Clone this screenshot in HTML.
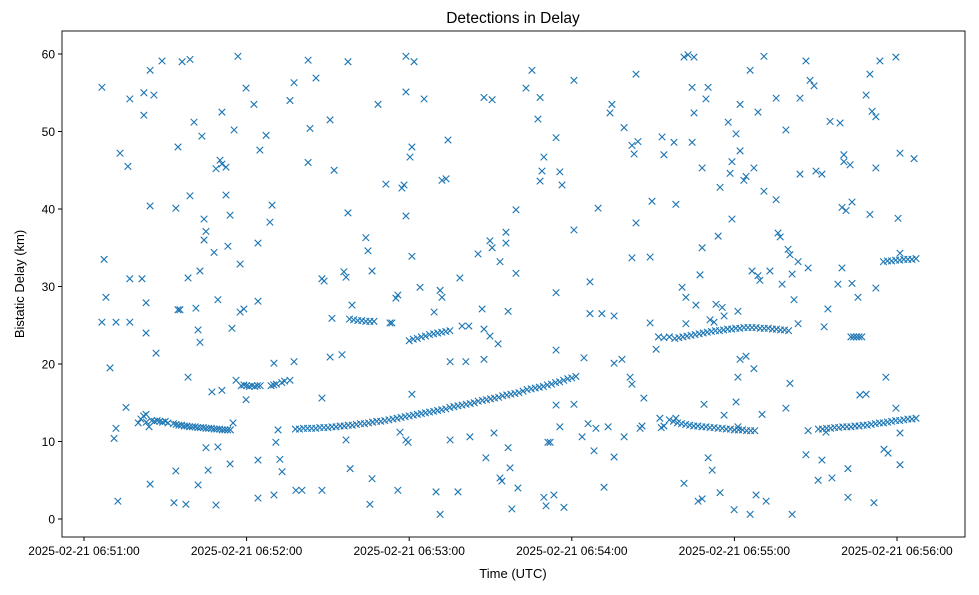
<!DOCTYPE html>
<html><head><meta charset="utf-8">
<style>
html,body{margin:0;padding:0;background:#fff;}
svg text{font-family:"Liberation Sans","DejaVu Sans",sans-serif;fill:#000;}
</style></head>
<body>
<svg id="chart" width="979" height="590" xmlns="http://www.w3.org/2000/svg">
<rect width="979" height="590" fill="#fff"/>
<text x="513" y="23" text-anchor="middle" font-size="15.5">Detections in Delay</text>
<text x="513" y="578" text-anchor="middle" font-size="13">Time (UTC)</text>
<text transform="translate(24,284) rotate(-90)" text-anchor="middle" font-size="13">Bistatic Delay (km)</text>
<g id="marks"></g>
<g id="axes"></g>
</svg>
<script>
const xTickLabels = ["2025-02-21 06:51:00","2025-02-21 06:52:00","2025-02-21 06:53:00","2025-02-21 06:54:00","2025-02-21 06:55:00","2025-02-21 06:56:00"];
const xTickSeconds = [0,60,120,180,240,300];
const yTicks = [0,10,20,30,40,50,60];
const noisePts = [[6.6,55.7],[7.4,33.5],[8.1,28.6],[6.6,25.4],[9.6,19.5],[11.1,10.4],[11.8,11.7],[11.8,25.4],[12.5,2.3],[13.3,47.2],[15.5,14.4],[16.2,45.5],[16.9,54.2],[16.9,31],[16.9,25.4],[21.4,31],[22.1,55],[22.1,52.1],[22.9,27.9],[22.9,24],[22.9,13.5],[24.4,57.9],[24.4,40.4],[24.4,4.5],[25.8,54.7],[26.6,21.4],[28.8,59.1],[33.9,40.1],[33.9,6.2],[34.7,48],[34.7,27],[35.4,27],[33.2,2.1],[36.2,59],[37.6,1.9],[38.4,31.1],[38.4,18.3],[39.1,41.7],[39.1,59.3],[40.6,51.2],[41.3,27.2],[42.1,24.4],[42.1,4.4],[42.8,22.8],[42.8,32],[43.5,49.4],[44.3,38.7],[44.3,36],[45,37.1],[45.8,6.3],[45,9.2],[47.2,16.4],[48,34.4],[48.7,45.2],[49.4,28.3],[49.4,9.3],[48.7,1.8],[50.2,46.3],[50.9,52.5],[50.9,45.8],[50.9,16.6],[52.4,41.8],[52.4,45.4],[53.1,35.2],[53.9,39.2],[53.9,7.1],[54.6,24.6],[55.4,50.2],[56.1,17.9],[56.8,59.7],[57.6,32.9],[57.6,26.7],[59,27.1],[59.8,55.6],[59.8,15.4],[62.7,53.5],[64.2,35.6],[64.2,7.6],[64.2,28.1],[64.9,47.6],[64.2,2.7],[67.2,49.5],[68.6,38.3],[69.4,40.5],[70.1,20.1],[70.8,9.9],[71.6,11.5],[70.1,3.1],[72.3,7.7],[73.1,6.1],[76,54],[77.5,56.3],[77.5,20.3],[78.2,3.7],[80.4,3.7],[82.7,59.2],[82.7,46],[83.4,50.4],[85.6,56.9],[87.8,31],[88.6,30.7],[87.8,3.7],[87.8,15.6],[90.8,51.5],[91.5,25.9],[90.8,20.9],[92.3,45],[95.2,21.2],[95.9,31.9],[96.7,31.2],[96.7,10.2],[97.4,59],[97.4,39.5],[98.2,6.5],[98.9,27.6],[104,36.3],[104.8,34.6],[106.3,32],[106.3,5.2],[105.5,1.9],[108.5,53.5],[111.4,43.2],[112.9,25.3],[113.6,25.3],[115.1,28.5],[115.8,28.9],[115.8,3.7],[116.6,11.2],[117.3,42.7],[118.1,43.1],[118.8,39.1],[118.8,10.2],[118.8,59.7],[118.8,55.1],[119.6,9.9],[120.3,46.7],[121,48],[121,33.9],[121.8,59],[121,16.1],[125.5,54.2],[124,29.9],[129.2,26.7],[129.9,3.5],[131.4,0.6],[131.4,29.5],[132.1,28.6],[132.1,43.7],[133.6,43.9],[134.3,48.9],[135.1,20.3],[135.1,10.2],[138,3.5],[138.7,31.1],[139.5,24.9],[140.9,20.3],[142.4,10.6],[145.4,34.2],[146.9,27.1],[147.6,54.4],[147.6,24.5],[147.6,20.6],[148.3,7.9],[149.8,35.9],[150.6,54.1],[150.6,35],[149.8,23.6],[151.3,11.1],[152.8,22.6],[153.5,33.2],[153.5,5.3],[154.2,4.9],[155.7,35.6],[155.7,37],[156.5,26.8],[156.5,9.2],[157.2,6.6],[157.9,1.3],[159.4,31.7],[159.4,39.9],[160.1,4],[163.1,55.6],[165.3,57.9],[167.5,51.6],[168.3,43.6],[168.3,54.4],[169,44.9],[169.7,46.7],[169.7,2.8],[170.5,1.7],[171.2,9.9],[172,9.9],[173.4,3.1],[174.2,49.2],[174.2,29.2],[174.2,21.8],[174.2,14.7],[175.6,11.9],[176.4,43.1],[177.1,1.5],[175.6,44.8],[180.8,56.6],[180.8,37.3],[180.8,14.8],[183.8,10.6],[184.5,20.8],[186,12.3],[186.7,30.6],[186.7,26.5],[188.2,8.8],[188.9,11.7],[189.7,40.1],[191.1,26.5],[191.9,4.1],[193.4,11.9],[194.1,52.4],[194.8,53.5],[195.6,20.1],[195.6,8],[195.6,26.2],[198.5,20.6],[199.3,50.5],[199.3,10.6],[201.5,18.3],[202.2,17.4],[202.2,48.2],[202.2,33.7],[203,47.1],[203.7,57.4],[203.7,38.2],[204.4,48.7],[205.2,11.7],[205.9,12],[206.6,15.6],[208.9,25.3],[208.9,33.8],[209.6,41],[211.1,21.9],[212.5,13],[213.3,49.3],[214,47],[217.7,48.6],[218.4,40.6],[218.4,13],[220.7,29.9],[221.4,59.6],[221.4,4.6],[222.1,28.6],[222.1,25.2],[222.9,59.9],[224.4,48.6],[224.4,55.7],[225.1,52.4],[225.1,59.6],[225.8,27.6],[226.6,2.3],[227.3,31.5],[228.1,45.3],[228.1,35],[228.1,2.6],[228.8,14.8],[229.5,54.2],[230.3,55.7],[230.3,7.9],[231,25.7],[231.8,6.3],[232.5,25.4],[233.2,27.7],[234,36.5],[234.7,42.8],[234.7,3.4],[235.5,27.3],[236.2,26.2],[236.2,13.4],[237.7,51.2],[238.4,44.6],[239.1,46.1],[239.1,38.7],[239.9,1.2],[240.6,49.7],[240.6,15.1],[241.3,26.8],[241.3,18.3],[241.3,11.9],[242.1,53.5],[242.1,20.6],[242.1,47.5],[243.5,43.7],[244.3,21],[244.3,44.2],[245.8,0.6],[245.8,57.9],[246.5,32],[247.2,19.4],[247.2,45.3],[248,3.1],[248.7,52.5],[248.7,31.4],[249.4,30.8],[250.2,13.5],[250.9,59.7],[250.9,42.3],[251.7,2.3],[253.1,32],[255.4,41.2],[255.4,54.3],[256.1,36.9],[256.9,36.4],[257.6,30.3],[259,50.2],[259,14.3],[259.8,34.8],[260.5,34.1],[260.5,17.5],[261.3,0.6],[261.3,31.6],[262,28.3],[263.5,33.2],[263.5,25.2],[264.2,44.5],[264.2,54.3],[266.4,8.3],[266.4,59.1],[267.2,11.4],[267.2,32.4],[267.9,56.6],[269.4,55.9],[270.1,44.9],[270.9,5],[272.3,7.6],[272.3,44.5],[273.1,24.8],[273.8,11.2],[274.5,27.1],[275.3,51.3],[276,5.3],[278.2,30.3],[279,51.1],[279.7,32.4],[279.7,40.2],[280.4,46.1],[280.4,47],[281.2,39.8],[281.9,6.5],[281.9,2.8],[282.7,45.7],[283.4,40.9],[283.4,30.4],[285.6,28.6],[286.3,16],[288.6,16.1],[288.6,54.7],[290,39.3],[290,57.4],[290.8,52.6],[291.5,2.1],[292.2,51.9],[292.2,29.8],[293.7,59.1],[295.2,9],[295.9,18.3],[296.7,8.5],[299.6,59.6],[299.6,14.3],[300.4,38.8],[301.1,11.1],[301.1,47.2],[301.1,7],[306.3,46.5],[301.1,34.3],[292.2,45.3]];
const trackA = [[20,12.4],[21,12.9],[22,13.3],[23,12.5],[24,11.9],[25,12.7],[26,12.6],[27,12.7],[28,12.6],[29,12.5],[30,12.6],[31,12.4],[33,12.3],[34,12.2],[35,12.1],[36,12.1],[37,12.0],[38,12.0],[39,11.9],[40,11.9],[41,11.9],[42,11.8],[43,11.8],[44,11.8],[45,11.7],[46,11.7],[47,11.7],[48,11.6],[49,11.6],[50,11.6],[51,11.5],[52,11.5],[53,11.5],[54,11.5],[55,12.4]];
const trackB = [[58,17.2],[59,17.3],[60,17.2],[61,17.1],[62,17.2],[63,17.1],[64,17.2],[65,17.2],[69,17.2],[70,17.3],[71,17.4],[73,17.6],[74,17.8],[76,17.9]];
const trackD = [[78,11.6],[79.5,11.6],[81,11.7],[82.5,11.7],[84,11.7],[85.5,11.7],[87,11.8],[88.5,11.8],[90,11.8],[91.5,11.9],[93,11.9],[94.5,12.0],[96,12.0],[97.5,12.1],[99,12.1],[100.5,12.2],[102,12.3],[103.5,12.3],[105,12.4],[106.5,12.5],[108,12.6],[109.5,12.6],[111,12.7],[112.5,12.8],[114,12.9],[115.5,13.0],[117,13.1],[118.5,13.2],[120,13.3],[121.5,13.4],[123,13.5],[124.5,13.6],[126,13.7],[127.5,13.8],[129,13.9],[130.5,14.0],[132,14.1],[133.5,14.2],[135,14.4],[136.5,14.5],[138,14.6],[139.5,14.7],[141,14.8],[142.5,14.9],[144,15.0],[145.5,15.2],[147,15.3],[148.5,15.4],[150,15.5],[151.5,15.6],[153,15.7],[154.5,15.9],[156,16.0],[157.5,16.1],[159,16.2],[160.5,16.3],[162,16.5],[163.5,16.7],[165,16.8],[166.5,16.9],[168,17.0],[169.5,17.1],[171,17.3],[172.5,17.4],[174,17.6],[175.5,17.7],[177,17.9],[178.5,18.1],[180,18.2],[181.5,18.4]];
const trackE = [[98,25.8],[99.5,25.7],[101,25.6],[102.5,25.6],[104,25.5],[105.5,25.5],[107,25.5]];
const trackF = [[120,23.0],[121.5,23.2],[123,23.3],[124.5,23.5],[126,23.6],[127.5,23.8],[129,23.9],[130.5,24.0],[132,24.1],[133.5,24.2],[135,24.3],[142,24.9]];
const trackG = [[213,11.8],[214,12.0],[216,12.8],[217.5,12.6],[219,12.4],[220.5,12.3],[222,12.2],[223.5,12.1],[225,12.0],[226.5,12.0],[228,11.9],[229.5,11.9],[231,11.8],[232.5,11.8],[234,11.7],[235.5,11.7],[237,11.6],[238.5,11.6],[240,11.5],[241.5,11.5],[243,11.5],[244.5,11.4],[246,11.4],[247.5,11.4]];
const trackH = [[212,23.5],[214,23.4],[216,23.5],[218,23.3],[219.5,23.4],[221,23.5],[222.5,23.6],[224,23.7],[225.5,23.8],[227,23.9],[228.5,24.0],[230,24.1],[231.5,24.2],[233,24.3],[234.5,24.3],[236,24.4],[237.5,24.5],[239,24.5],[240.5,24.6],[242,24.6],[243.5,24.7],[245,24.7],[246.5,24.7],[248,24.7],[249.5,24.6],[251,24.6],[252.5,24.6],[254,24.5],[255.5,24.5],[257,24.4],[258.5,24.4],[260,24.3]];
const trackI = [[271,11.6],[272.5,11.6],[274,11.7],[275.5,11.7],[277,11.8],[278.5,11.8],[280,11.9],[281.5,11.9],[283,11.9],[284.5,12.0],[286,12.0],[287.5,12.1],[289,12.1],[290.5,12.2],[292,12.3],[293.5,12.4],[295,12.4],[296.5,12.5],[298,12.6],[299.5,12.7],[301,12.7],[302.5,12.8],[304,12.9],[305.5,12.9],[307,13.0]];
const trackJ = [[295,33.2],[296.5,33.3],[298,33.3],[299.5,33.4],[301,33.4],[302.5,33.5],[304,33.5],[305.5,33.5],[307,33.6]];
const trackK = [[283,23.5],[284,23.5],[285,23.5],[286,23.5],[287,23.5]];

const NS = "http://www.w3.org/2000/svg";
const L = 62, R = 965, T = 31, B = 537;
function xScale(s){ return 84 + s * (162.6 / 60); }
function yScale(d){ return 519 - d * 7.75; }

const marks = document.getElementById('marks');
const groups = [noisePts, trackA, trackB, trackD, trackE, trackF, trackG, trackH, trackI, trackJ, trackK];
groups.forEach(g => g.forEach(p => {
  const cx = xScale(p[0]), cy = yScale(p[1]), h = 3.3;
  const path = document.createElementNS(NS, 'path');
  path.setAttribute('d', `M${cx-h},${cy-h}L${cx+h},${cy+h}M${cx-h},${cy+h}L${cx+h},${cy-h}`);
  path.setAttribute('stroke', '#1f77b4');
  path.setAttribute('stroke-width', '1.1');
  path.setAttribute('fill', 'none');
  
  
  marks.appendChild(path);
}));

const axes = document.getElementById('axes');
const frame = document.createElementNS(NS, 'rect');
frame.setAttribute('x', L); frame.setAttribute('y', T);
frame.setAttribute('width', R - L); frame.setAttribute('height', B - T);
frame.setAttribute('fill', 'none'); frame.setAttribute('stroke', '#000'); frame.setAttribute('stroke-width', '0.9');


axes.appendChild(frame);

yTicks.forEach(v => {
  const y = yScale(v);
  const ln = document.createElementNS(NS, 'line');
  ln.setAttribute('x1', L - 4); ln.setAttribute('x2', L); ln.setAttribute('y1', y); ln.setAttribute('y2', y);
  ln.setAttribute('stroke', '#000');
  
  
  axes.appendChild(ln);
  const t = document.createElementNS(NS, 'text');
  t.setAttribute('x', L - 7); t.setAttribute('y', y + 4.5);
  t.setAttribute('text-anchor', 'end'); t.setAttribute('font-size', '12');
  t.textContent = v;
  
  
  axes.appendChild(t);
});

xTickSeconds.forEach((s, i) => {
  const x = xScale(s);
  const ln = document.createElementNS(NS, 'line');
  ln.setAttribute('x1', x); ln.setAttribute('x2', x); ln.setAttribute('y1', B); ln.setAttribute('y2', B + 4);
  ln.setAttribute('stroke', '#000');
  
  
  axes.appendChild(ln);
  const t = document.createElementNS(NS, 'text');
  t.setAttribute('x', x); t.setAttribute('y', B + 18);
  t.setAttribute('text-anchor', 'middle'); t.setAttribute('font-size', '12');
  t.textContent = xTickLabels[i];
  
  
  axes.appendChild(t);
});
</script>
</body></html>
